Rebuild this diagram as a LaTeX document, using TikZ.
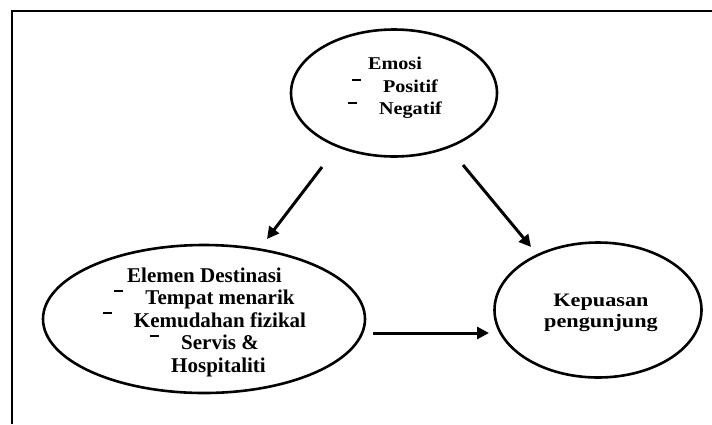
\documentclass[tikz,border=0pt]{standalone}
\usepackage{fontspec}
\setmainfont{Liberation Serif}
\newfontfamily\wideA[FakeStretch=1.12]{Liberation Serif}
\newfontfamily\wideB[FakeStretch=1.17]{Liberation Serif}
\usetikzlibrary{shapes.geometric,arrows.meta}
\tikzset{
  oval/.style={ellipse, draw, line width=2.6pt, inner sep=0pt},
  txt/.style={align=center, inner sep=0pt},
  arr/.style={line width=3pt, -{Triangle[length=12pt,width=12pt]}},
  frame/.style={line width=2pt}
}
\newcommand\dsh{\rule[0.62em]{9pt}{1.8pt}\hspace{22pt}}
\begin{document}
\begin{tikzpicture}[x=1pt,y=-1pt]
\useasboundingbox (0,0) rectangle (712,424);
\coordinate (fbl) at (12,424);
\coordinate (ftl) at (12,11);
\coordinate (ftr) at (712,11);
\draw[frame] (fbl) -- (ftl) -- (ftr);

\node[oval, minimum width=206pt, minimum height=127pt] (emo) at (394,93) {};
\node[oval, minimum width=322pt, minimum height=148pt] (ele) at (204,319) {};
\node[oval, minimum width=207pt, minimum height=135pt] (kep) at (598,310) {};

\node[txt, font={\wideA\bfseries\fontsize{18}{22.5}\selectfont}] (emot) at (395,88)
  {Emosi\\ \dsh Positif\\ \dsh Negatif};
\node[txt, font={\bfseries\fontsize{21}{22.5}\selectfont}] (elet) at (204.5,322)
  {Elemen Destinasi\\ \dsh Tempat menarik\\ \dsh Kemudahan fizikal\\ \dsh Servis \&\\ \hspace*{28pt}Hospitaliti};
\node[txt, font={\wideB\bfseries\fontsize{19}{21}\selectfont}] (kept) at (601,313)
  {Kepuasan\\ pengunjung};

\coordinate (a1s) at (322,167); \coordinate (a1e) at (267,239);
\coordinate (a2s) at (463,165); \coordinate (a2e) at (531,247);
\coordinate (a3s) at (373,333); \coordinate (a3e) at (489,333);
\draw[arr] (a1s) -- (a1e);
\draw[arr] (a2s) -- (a2e);
\draw[arr] (a3s) -- (a3e);
\end{tikzpicture}
\end{document}
